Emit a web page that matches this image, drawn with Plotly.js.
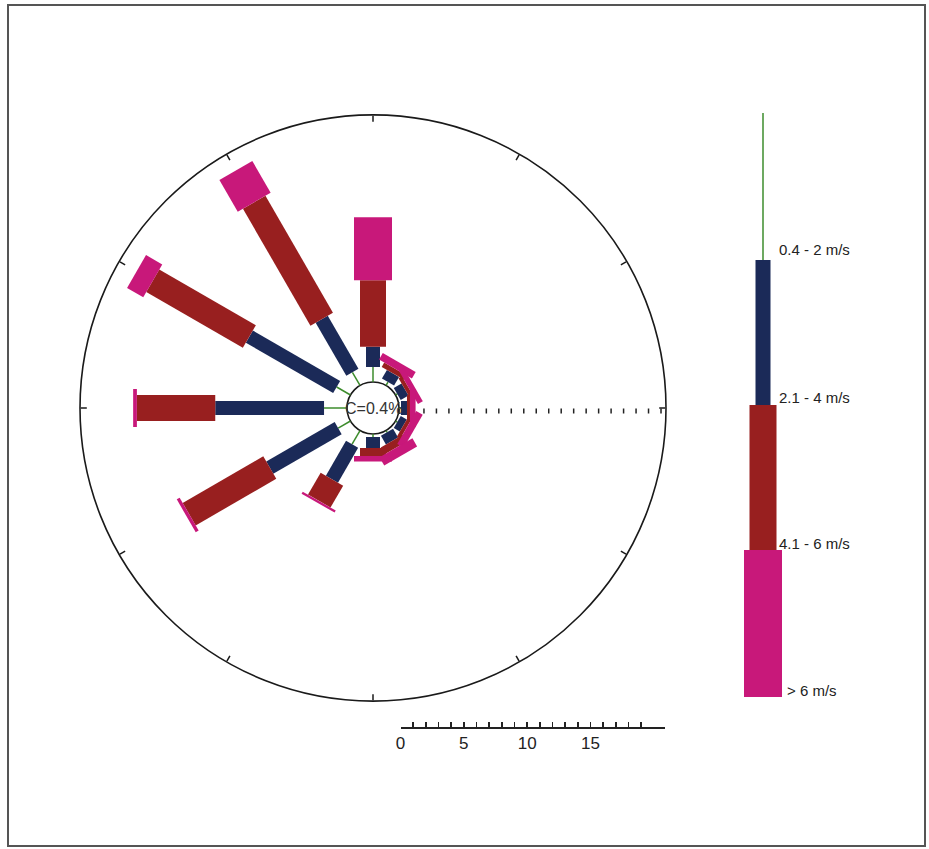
<!DOCTYPE html>
<html>
<head>
<meta charset="utf-8">
<script src="https://cdn.plot.ly/plotly-3.0.1.min.js"></script>
<style>
  html, body { margin: 0; padding: 0; background: #ffffff; }
  #rose { width: 929px; height: 849px; }
</style>
</head>
<body>
<div id="rose"></div>
<script>
// Wind directions (degrees, clockwise from north)
const directions = [0, 30, 60, 90, 120, 150, 180, 210, 240, 270, 300, 330];

// Frequency (%) of each speed class per direction
const freqClass1 = [1.2, 0.32, 0.16, 0.16, 0.16, 0.16, 0.24, 1.27, 1.14, 1.84, 1.28, 1.22]; // 0.4 - 2 m/s
const freqClass2 = [1.62, 0.8, 0.72, 0.48, 0.56, 0.8, 0.88, 3.23, 6.33, 8.72, 8.08, 4.92]; // 2.1 - 4 m/s
const freqClass3 = [5.34, 0.4, 0.32, 0.24, 0.32, 0.64, 0.64, 2.03, 7.46, 6.28, 8.94, 10.82]; // 4.1 - 6 m/s
const freqClass4 = [5.04, 0.6, 0.45, 0.45, 0.6, 0.75, 0.45, 0.19, 0.27, 0.3, 1.5, 2.94];   // > 6 m/s

const speedClasses = ['0.4 - 2 m/s', '2.1 - 4 m/s', '4.1 - 6 m/s', '> 6 m/s'];
const calmPercent = 0.4;

// Distance scale bar
const scaleTicks = [0, 1, 2, 3, 4, 5, 6, 7, 8, 9, 10, 11, 12, 13, 14, 15, 16, 17, 18, 19];
const scaleLabels = ['0', '', '', '', '', '5', '', '', '', '', '10', '', '', '', '', '15', '', '', '', ''];

// Styling per speed class
const classColors = ['#3d8c2c', '#1b2a58', '#981f1f', '#c8187a'];
const classWidths = [1.5, 14, 26, 38];

const W = 929, H = 849;
const px = x => x / W;
const py = y => 1 - y / H;

// Build one stacked radial segment per direction for every class
const classFreqs = [freqClass1, freqClass2, freqClass3, freqClass4];
const cumulative = directions.map(() => 0);
const traces = classFreqs.map((freqs, k) => {
  const r = [], theta = [];
  directions.forEach((d, i) => {
    const start = cumulative[i];
    const end = start + freqs[i];
    cumulative[i] = end;
    r.push(start, end, null);
    theta.push(d, d, null);
  });
  return {
    type: 'scatterpolar',
    mode: 'lines',
    r: r,
    theta: theta,
    connectgaps: false,
    line: { color: classColors[k], width: classWidths[k] },
    hoverinfo: 'skip',
    showlegend: false,
    subplot: 'polar'
  };
});

// Invisible trace that carries the scale-bar axis
traces.push({
  type: 'scatter', x: [0], y: [0], mode: 'markers',
  marker: { opacity: 0 }, xaxis: 'x', yaxis: 'y',
  hoverinfo: 'skip', showlegend: false
});

// Legend: stacked bars with labels on the right
const legendX = 763;
const legendTops = [113, 260, 405, 550];
const legendBottoms = [260, 405, 550, 697];
const legendHalfW = [0.75, 7.5, 13.5, 19];
const legendLabelX = [777, 777, 777, 785];
const legendLabelY = [250, 397, 543, 690];

const shapes = [];
speedClasses.forEach((name, k) => {
  shapes.push({
    type: 'rect', xref: 'paper', yref: 'paper',
    x0: px(legendX - legendHalfW[k]), x1: px(legendX + legendHalfW[k]),
    y0: py(legendBottoms[k]), y1: py(legendTops[k]),
    fillcolor: classColors[k], line: { width: 0 }
  });
});
// Frame round the figure
shapes.push({
  type: 'rect', xref: 'paper', yref: 'paper',
  x0: px(8), x1: px(925), y0: py(846), y1: py(5),
  line: { color: '#555555', width: 2 }, fillcolor: 'rgba(0,0,0,0)'
});

const annotations = speedClasses.map((name, k) => ({
  xref: 'paper', yref: 'paper', x: px(legendLabelX[k]), y: py(legendLabelY[k]),
  xanchor: 'left', yanchor: 'middle', showarrow: false,
  text: name, font: { family: 'Liberation Sans, Arial, sans-serif', size: 15, color: '#222222' }
}));
annotations.push({
  xref: 'paper', yref: 'paper', x: px(373), y: py(408),
  xanchor: 'center', yanchor: 'middle', showarrow: false,
  text: 'C=' + calmPercent + '%',
  font: { family: 'Liberation Sans, Arial, sans-serif', size: 16, color: '#333333' }
});

const layout = {
  width: W, height: H,
  margin: { l: 0, r: 0, t: 0, b: 0 },
  paper_bgcolor: '#ffffff',
  plot_bgcolor: 'rgba(0,0,0,0)',
  showlegend: false,
  polar: {
    domain: { x: [px(80), px(666)], y: [py(701), py(115)] },
    hole: 26 / 293,
    bgcolor: 'rgba(0,0,0,0)',
    radialaxis: {
      range: [0, 21.4], angle: 0, tickangle: 0,
      showline: false, showgrid: false,
      ticks: 'outside', ticklen: 5, tickwidth: 1.5, tickcolor: '#222222',
      tick0: 0, dtick: 1, showticklabels: false, layer: 'below traces'
    },
    angularaxis: {
      direction: 'clockwise', rotation: 90,
      showline: true, linecolor: '#1a1a1a', linewidth: 1.6,
      showgrid: false, ticks: 'inside', ticklen: 6, tickwidth: 1.5, tickcolor: '#1a1a1a',
      tickmode: 'linear', tick0: 0, dtick: 30, showticklabels: false, layer: 'below traces'
    }
  },
  xaxis: {
    domain: [px(400.5), px(665)],
    range: [0, (665 - 400.5) / 12.67],
    anchor: 'y',
    showline: true, linecolor: '#222222', linewidth: 1.5,
    showgrid: false, zeroline: false,
    ticks: 'inside', ticklen: 5, tickwidth: 1.5, tickcolor: '#222222',
    tickmode: 'array', tickvals: scaleTicks, ticktext: scaleLabels,
    tickfont: { family: 'Liberation Sans, Arial, sans-serif', size: 17, color: '#222222' },
    fixedrange: true
  },
  yaxis: {
    domain: [py(727), py(715)],
    visible: false, range: [0, 1], fixedrange: true
  },
  shapes: shapes,
  annotations: annotations
};

Plotly.newPlot('rose', traces, layout, { staticPlot: true, displayModeBar: false });
</script>
</body>
</html>
